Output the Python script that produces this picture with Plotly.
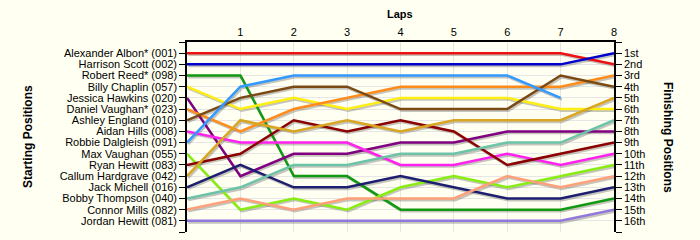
import plotly.graph_objects as go

laps = [0, 1, 2, 3, 4, 5, 6, 7, 8]
drivers = [
    "Alexander Albon* (001)", "Harrison Scott (002)", "Robert Reed* (098)",
    "Billy Chaplin (057)", "Jessica Hawkins (020)", "Daniel Vaughan* (023)",
    "Ashley England (010)", "Aidan Hills (008)", "Robbie Dalgleish (091)",
    "Max Vaughan (055)", "Ryan Hewitt (083)", "Callum Hardgrave (042)",
    "Jack Michell (016)", "Bobby Thompson (040)", "Connor Mills (082)",
    "Jordan Hewitt (081)",
]
albon = [1, 1, 1, 1, 1, 1, 1, 1, 2]
scott = [2, 2, 2, 2, 2, 2, 2, 2, 1]
reed = [3, 3, 12, 12, 15, 15, 15, 15, 14]
chaplin = [4, 6, 5, 6, 5, 5, 5, 6, 6]
hawkins = [5, 12, 10, 10, 9, 9, 8, 8, 8]
d_vaughan = [6, 8, 6, 5, 4, 4, 4, 4, 3]
england = [7, 5, 4, 4, 6, 6, 6, 3, 4]
hills = [8, 9, 9, 9, 11, 11, 10, 11, 10]
dalgleish = [9, 4, 3, 3, 3, 3, 3, 5, None]
m_vaughan = [10, 15, 14, 15, 13, 12, 13, 12, 11]
r_hewitt = [11, 10, 7, 8, 7, 8, 11, 10, 9]
hardgrave = [12, 7, 8, 7, 8, 7, 7, 7, 5]
michell = [13, 11, 13, 13, 12, 13, 14, 14, 13]
thompson = [14, 13, 11, 11, 10, 10, 9, 9, 7]
mills = [15, 14, 15, 14, 14, 14, 12, 13, 12]
j_hewitt = [16, 16, 16, 16, 16, 16, 16, 16, 15]
series = [albon, scott, reed, chaplin, hawkins, d_vaughan, england, hills,
          dalgleish, m_vaughan, r_hewitt, hardgrave, michell, thompson, mills, j_hewitt]
colors = ["#EE1111", "#0000CC", "#119911", "#FFEE11", "#800080", "#FF8C1A",
          "#7B4A14", "#FF22EE", "#3399FF", "#88EE11", "#8B0000", "#DAA520",
          "#1E1E70", "#6CC4A8", "#FFA07A", "#9378DB"]
finish_labels = ["1st", "2nd", "3rd", "4th", "5th", "6th", "7th", "8th", "9th",
                 "10th", "11th", "12th", "13th", "14th", "15th", "16th"]

W, H = 700, 240
l, r, t, b = 187, 86, 42, 8
pw, ph = W - l - r, H - t - b


def px(xp):
    return (xp - l) / pw


def py(yp):
    return (H - b - yp) / ph


fig = go.Figure()
# shadows on hidden base axes (slightly shifted ranges)
for s in series:
    fig.add_trace(go.Scatter(x=laps, y=s, mode="lines", xaxis="x", yaxis="y",
                             line=dict(color="rgba(90,90,90,0.35)", width=2.5),
                             showlegend=False, hoverinfo="skip"))
for name, s, c in zip(drivers, series, colors):
    fig.add_trace(go.Scatter(x=laps, y=s, mode="lines", name=name, xaxis="x2", yaxis="y2",
                             line=dict(color=c, width=2.5), showlegend=False))
fig.add_trace(go.Scatter(x=[None], y=[None], xaxis="x2", yaxis="y3", showlegend=False,
                         hoverinfo="skip"))

pos_vals = list(range(0, 18))
left_text = [""] + drivers + [""]
right_text = [""] + finish_labels + [""]
font = dict(family="Liberation Sans, Arial, sans-serif", size=11, color="#000000")
bfont = dict(family="Liberation Sans, Arial, sans-serif", size=11, color="#000000")
tfont = dict(family="Liberation Sans, Arial, sans-serif", size=12, color="#000000")
bg = "#FFFFF2"

fig.update_layout(
    width=W, height=H,
    margin=dict(l=l, r=r, t=t, b=b),
    paper_bgcolor=bg, plot_bgcolor=bg,
    font=font,
    xaxis=dict(range=[-0.025, 7.975], visible=False, fixedrange=True),
    yaxis=dict(range=[16.85, -0.15], visible=False, fixedrange=True),
    xaxis2=dict(overlaying="x", anchor="y2", side="top", range=[0, 8],
                tickvals=laps[1:], ticktext=[str(v) for v in laps[1:]],
                showgrid=True, gridcolor="#E6E6E6", gridwidth=1,
                showline=True, linecolor="#000000", linewidth=1.5,
                ticks="", zeroline=False, tickfont=font),
    yaxis2=dict(overlaying="y", anchor="x2", range=[17, 0],
                tickvals=pos_vals, ticktext=left_text,
                showgrid=True, gridcolor="#E6E6E6", gridwidth=1,
                showline=True, linecolor="#000000", linewidth=1.5,
                ticks="outside", ticklen=6, tickcolor="#000000", tickwidth=1,
                zeroline=False, tickfont=font),
    yaxis3=dict(overlaying="y", anchor="x2", side="right", range=[17, 0],
                tickvals=pos_vals, ticktext=right_text,
                showgrid=False,
                showline=True, linecolor="#000000", linewidth=1.5,
                ticks="outside", ticklen=6, tickcolor="#000000", tickwidth=1,
                zeroline=False, tickfont=font),
    annotations=[
        dict(text="<b>Laps</b>", x=px(400), y=py(14), xref="paper", yref="paper",
             xanchor="center", yanchor="middle", showarrow=False, font=bfont),
        dict(text="<b>Starting Positions</b>", x=px(28), y=py(137), xref="paper",
             yref="paper", xanchor="center", yanchor="middle", showarrow=False,
             textangle=-90, font=tfont),
        dict(text="<b>Finishing Positions</b>", x=px(668), y=py(137), xref="paper",
             yref="paper", xanchor="center", yanchor="middle", showarrow=False,
             textangle=90, font=tfont),
    ],
)
fig.write_html("out.html", config={"displayModeBar": False},
               post_script="document.body.style.margin='0';")
